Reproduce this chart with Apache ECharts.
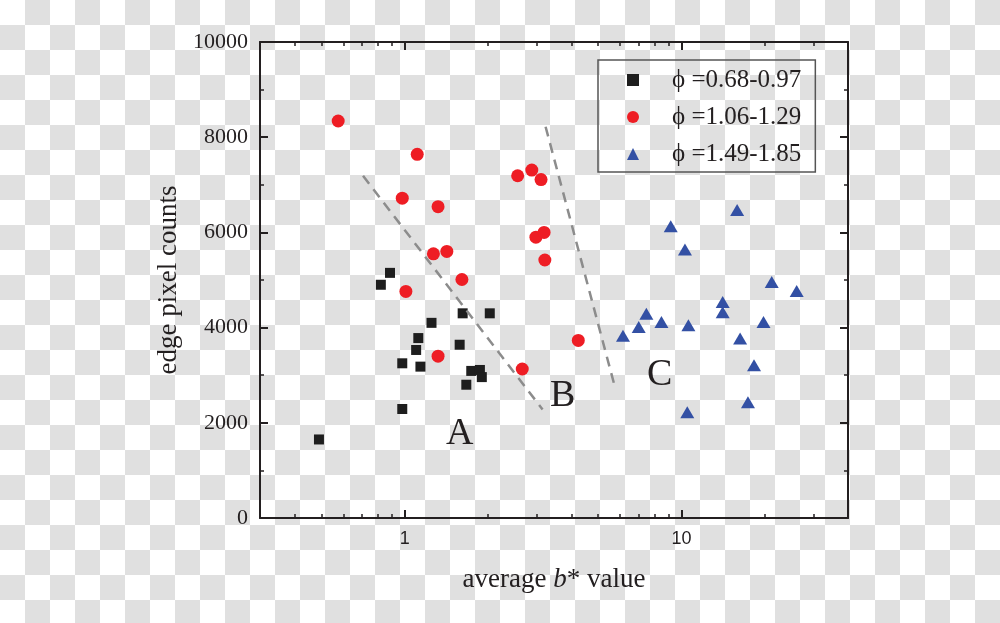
<!DOCTYPE html>
<html>
<head>
<meta charset="utf-8">
<title>edge pixel counts vs average b* value</title>
<script src="https://cdn.jsdelivr.net/npm/echarts@6/dist/echarts.min.js"></script>
<style>
  html, body { margin: 0; padding: 0; }
  body { background: repeating-conic-gradient(#e0e0e0 0 25%, #ffffff 0 50%) 0 0 / 50px 50px; }
  #chart { width: 1000px; height: 623px; }
</style>
</head>
<body>
<div id="chart"></div>
<script>
// legend names
const seriesNames = ['ϕ =0.68-0.97', 'ϕ =1.06-1.29', 'ϕ =1.49-1.85']

// [average b*, edge pixel counts]
const groupA = [
  [0.49, 1650], [0.82, 4900], [0.885, 5150], [0.98, 3250], [0.98, 2290],
  [1.10, 3530], [1.12, 3780], [1.14, 3180], [1.25, 4100], [1.58, 3640],
  [1.62, 4300], [1.67, 2800], [1.74, 3090], [1.87, 3110], [1.90, 2960],
  [2.03, 4300]
]
const groupB = [
  [0.575, 8340], [1.11, 7640], [0.98, 6720], [1.32, 6540], [2.56, 7190],
  [2.88, 7310], [3.11, 7110], [2.98, 5900], [3.19, 6000], [3.21, 5420],
  [1.27, 5550], [1.42, 5600], [1.61, 5010], [1.01, 4760], [4.24, 3730],
  [1.32, 3400], [2.66, 3130]
]
const groupC = [
  [15.9, 6470], [9.15, 6130], [10.3, 5640], [21.2, 4960], [26.1, 4770],
  [14.1, 4540], [14.1, 4320], [7.47, 4290], [8.47, 4120], [19.8, 4120],
  [10.6, 4050], [7.01, 4010], [6.15, 3830], [16.3, 3770], [18.3, 3210],
  [17.4, 2430], [10.5, 2220]
]

// dashed boundaries between regions
const boundaryAB = [[0.707, 7190], [3.15, 2280]]
const boundaryBC = [[3.23, 8220], [5.74, 2770]]

// region letters
const regionNames = ['A', 'B', 'C']
const regionPos = [[1.58, 1770], [3.72, 2560], [8.35, 3000]]

const ink = '#231f20'
const serif = '"Liberation Serif", "Times New Roman", serif'

const chart = echarts.init(document.getElementById('chart'))

// every axis gets its own copy, ticks pointing into the plot
function frame(minorSplit) {
  return {
    axisLine: { onZero: false, lineStyle: { color: ink, width: 2 } },
    axisTick: { show: true, inside: true, length: 8, lineStyle: { color: ink, width: 2 } },
    minorTick: { show: true, splitNumber: minorSplit, length: 4, lineStyle: { color: ink, width: 1.5 } },
    splitLine: { show: false },
    minorSplitLine: { show: false }
  }
}

chart.setOption({
  animation: false,
  grid: { left: 260, right: 152, top: 42, bottom: 105 },
  legend: {
    orient: 'vertical',
    left: 598,
    top: 60,
    padding: [7, 14, 5, 29],
    itemGap: 11,
    itemWidth: 12,
    itemHeight: 12,
    borderColor: '#555',
    borderWidth: 1.5,
    textStyle: {
      fontFamily: serif,
      fontSize: 25,
      color: ink,
      lineHeight: 26,
      padding: [0, 0, 0, 28]
    },
    data: seriesNames
  },
  xAxis: [
    {
      type: 'log',
      logBase: 10,
      min: 0.3,
      max: 40,
      position: 'bottom',
      ...frame(9),
      axisLabel: {
        fontFamily: '"Liberation Sans", Arial, sans-serif',
        fontSize: 18,
        color: ink,
        margin: 12,
        showMinLabel: false,
        showMaxLabel: false
      },
      name: 'average {i|b}* value',
      nameLocation: 'middle',
      nameGap: 48,
      nameTextStyle: {
        fontFamily: serif,
        fontSize: 27,
        color: ink,
        rich: { i: { fontFamily: serif, fontSize: 27, fontStyle: 'italic', color: ink } }
      }
    },
    {
      type: 'log',
      logBase: 10,
      min: 0.3,
      max: 40,
      position: 'top',
      ...frame(9),
      axisLabel: { show: false }
    }
  ],
  yAxis: [
    {
      type: 'value',
      min: 0,
      max: 10000,
      interval: 2000,
      position: 'left',
      ...frame(2),
      axisLabel: { fontFamily: serif, fontSize: 22, color: ink, margin: 12, formatter: v => String(v) },
      name: 'edge pixel counts',
      nameLocation: 'middle',
      nameGap: 70,
      nameTextStyle: { fontFamily: serif, fontSize: 27, color: ink }
    },
    {
      type: 'value',
      min: 0,
      max: 10000,
      interval: 2000,
      position: 'right',
      ...frame(2),
      axisLabel: { show: false }
    }
  ],
  series: [
    {
      type: 'line',
      data: boundaryAB,
      symbol: 'none',
      silent: true,
      lineStyle: { color: '#8c8c8c', width: 2.5, type: [10, 7] }
    },
    {
      type: 'line',
      data: boundaryBC,
      symbol: 'none',
      silent: true,
      lineStyle: { color: '#8c8c8c', width: 2.5, type: [10, 7] }
    },
    {
      name: seriesNames[0],
      type: 'scatter',
      symbol: 'rect',
      symbolSize: 10,
      itemStyle: { color: '#1e1e1e', opacity: 1 },
      data: groupA
    },
    {
      name: seriesNames[1],
      type: 'scatter',
      symbol: 'circle',
      symbolSize: 13,
      itemStyle: { color: '#ee1d24', opacity: 1 },
      data: groupB
    },
    {
      name: seriesNames[2],
      type: 'scatter',
      symbol: 'triangle',
      symbolSize: [14, 12],
      itemStyle: { color: '#3350a4', opacity: 1 },
      data: groupC
    },
    {
      type: 'scatter',
      silent: true,
      symbolSize: 1,
      itemStyle: { color: 'rgba(0,0,0,0)', opacity: 1 },
      label: {
        show: true,
        position: 'inside',
        formatter: '{b}',
        fontFamily: serif,
        fontSize: 38,
        color: ink,
        opacity: 1
      },
      data: regionNames.map((n, i) => ({ name: n, value: regionPos[i] }))
    }
  ]
})
</script>
</body>
</html>
